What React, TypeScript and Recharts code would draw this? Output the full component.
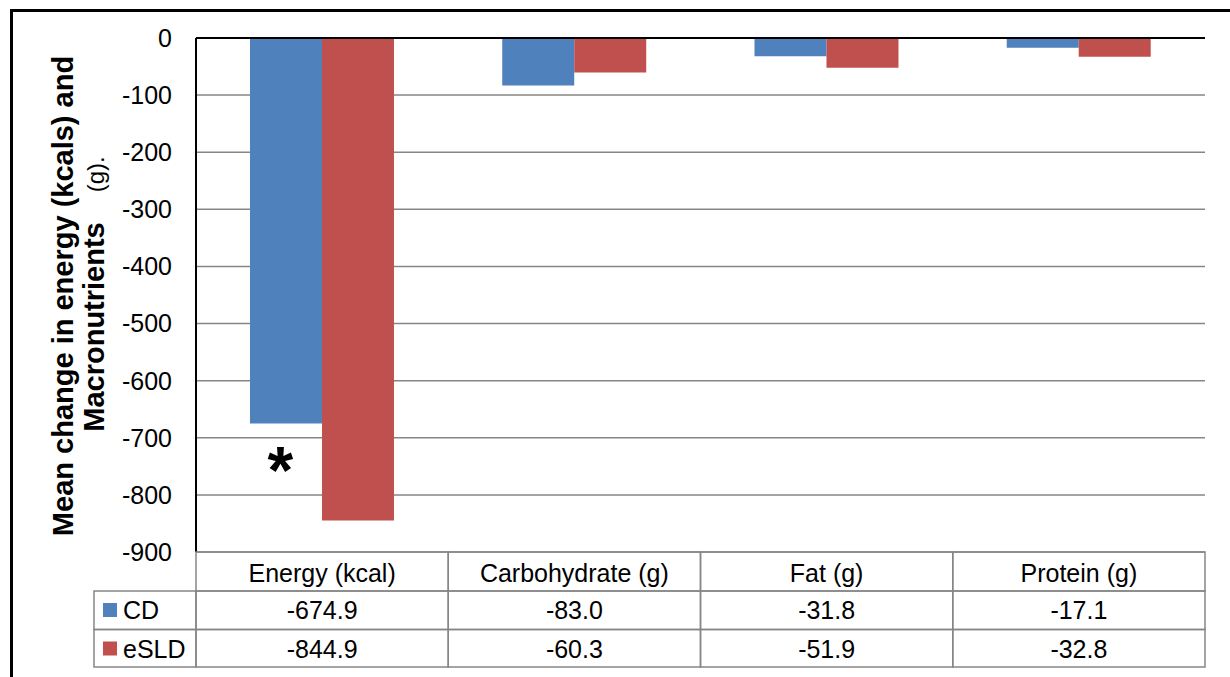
import { BarChart, Bar, XAxis, YAxis, CartesianGrid, ReferenceLine, LabelList } from "recharts";

const categories = ["Energy (kcal)", "Carbohydrate (g)", "Fat (g)", "Protein (g)"];
const cdValues = [-674.9, -83.0, -31.8, -17.1];
const esldValues = [-844.9, -60.3, -51.9, -32.8];
const significance = ["*", "", "", ""];
const yTicks = [0, -100, -200, -300, -400, -500, -600, -700, -800, -900];
const seriesNames = ["CD", "eSLD"];
const seriesColors = ["#4F81BD", "#C0504D"];

const data = categories.map((name, i) => ({
  name,
  cd: cdValues[i],
  esld: esldValues[i],
  sig: significance[i],
}));

const FONT = "'Liberation Sans', Arial, sans-serif";
const PLOT_LEFT = 196;
const PLOT_RIGHT = 1205;
const BAND = (PLOT_RIGHT - PLOT_LEFT) / categories.length;
const ROWS = [552, 591, 629.5, 667];
const BASELINES = [582, 619, 658];
const GRID = "#868686";
const TXT = 25;

function TableTick(props: any) {
  const { x, payload } = props;
  const i = payload.index;
  const left = x - BAND / 2;
  const cells = [categories[i], cdValues[i].toFixed(1), esldValues[i].toFixed(1)];
  return (
    <g>
      {cells.map((txt, r) => (
        <g key={r}>
          <rect x={left} y={ROWS[r]} width={BAND} height={ROWS[r + 1] - ROWS[r]} fill="none" stroke={GRID} strokeWidth={1.5} />
          <text x={x} y={BASELINES[r]} textAnchor="middle" fontSize={TXT} fontFamily={FONT} fill="#000">
            {txt}
          </text>
        </g>
      ))}
      {i === 0 &&
        seriesNames.map((s, k) => (
          <g key={s}>
            <rect x={94} y={ROWS[k + 1]} width={PLOT_LEFT - 94} height={ROWS[k + 2] - ROWS[k + 1]} fill="none" stroke={GRID} strokeWidth={1.5} />
            <rect x={103} y={ROWS[k + 1] + 12} width={14} height={14} fill={seriesColors[k]} />
            <text x={123} y={BASELINES[k + 1]} fontSize={TXT} fontFamily={FONT} fill="#000">
              {s}
            </text>
          </g>
        ))}
    </g>
  );
}

function YLabel() {
  return (
    <g fontFamily={FONT} fill="#000">
      <text x={73} y={296} transform="rotate(-90 73 296)" textAnchor="middle" fontSize={29} fontWeight="bold">
        Mean change in energy (kcals) and
      </text>
      <text x={104} y={294} transform="rotate(-90 104 294)" textAnchor="middle" fontSize={29}>
        <tspan fontWeight="bold">Macronutrients</tspan>
        <tspan dx={30} fontSize={24}>(g).</tspan>
      </text>
    </g>
  );
}

function Star(props: any) {
  const { x, y, width, height, value } = props;
  if (!value) return null;
  const bottom = Math.max(Number(y), Number(y) + Number(height));
  return (
    <text x={Number(x) + Number(width) * 0.42} y={bottom + 70} textAnchor="middle" fontSize={66} fontWeight="bold" fontFamily={FONT} fill="#000">
      {value}
    </text>
  );
}

export default function App() {
  return (
    <div style={{ position: "relative", width: 1230, height: 677, overflow: "hidden", background: "#fff" }}>
      <style>{"body{margin:0}"}</style>
      <BarChart
        width={1230}
        height={677}
        data={data}
        margin={{ top: 38, right: 1230 - PLOT_RIGHT, left: 0, bottom: 0 }}
        barGap={0}
        barCategoryGap="21.4%"
      >
        <CartesianGrid vertical={false} stroke={GRID} strokeWidth={1.5} />
        <XAxis dataKey="name" height={125} axisLine={false} tickLine={false} interval={0} tick={(p: any) => <TableTick {...p} />} />
        <YAxis
          width={PLOT_LEFT}
          domain={[-900, 0]}
          ticks={yTicks}
          interval={0}
          axisLine={{ stroke: "#000", strokeWidth: 2 }}
          tickLine={false}
          tickSize={0}
          tickMargin={24}
          tick={{ fill: "#000", fontSize: TXT, fontFamily: FONT }}
          label={{ content: () => <YLabel /> }}
        />
        <ReferenceLine y={0} stroke="#000" strokeWidth={2} />
        <Bar dataKey="cd" name={seriesNames[0]} fill={seriesColors[0]} isAnimationActive={false}>
          <LabelList dataKey="sig" content={(p: any) => <Star {...p} />} />
        </Bar>
        <Bar dataKey="esld" name={seriesNames[1]} fill={seriesColors[1]} isAnimationActive={false} />
      </BarChart>
      <div
        style={{
          position: "absolute",
          left: 10,
          top: 9,
          width: 1400,
          height: 800,
          borderLeft: "3px solid #000",
          borderTop: "3px solid #000",
          pointerEvents: "none",
        }}
      />
    </div>
  );
}
